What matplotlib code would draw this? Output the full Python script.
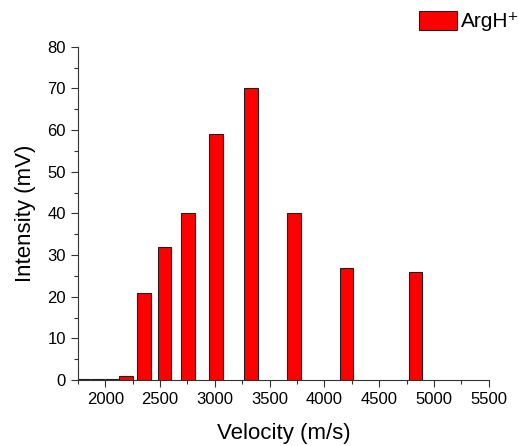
import matplotlib.pyplot as plt
from matplotlib.ticker import MultipleLocator

plt.rcParams['font.family'] = ['Liberation Sans', 'DejaVu Sans']

# velocity bins (m/s) and measured intensity (mV)
velocity = [1800, 1930, 2060, 2190, 2355, 2540, 2755, 3010, 3330, 3720, 4200, 4830]
intensity = [0.3, 0.3, 0.3, 1, 21, 32, 40, 59, 70, 40, 27, 26]

fig = plt.figure(figsize=(5.19, 4.46), dpi=100)
ax = fig.add_axes([0.150, 0.148, 0.792, 0.747])

ax.bar(velocity, intensity, width=125, color='#ff0000', edgecolor='#202020',
       linewidth=0.8, label='ArgH\u207a')

ax.set_xlim(1750, 5500)
ax.set_ylim(0, 80)
ax.xaxis.set_major_locator(MultipleLocator(500))
ax.xaxis.set_minor_locator(MultipleLocator(250))
ax.yaxis.set_major_locator(MultipleLocator(10))
ax.yaxis.set_minor_locator(MultipleLocator(5))
ax.tick_params(which='major', length=5, width=0.8, labelsize=12, color='#333333')
ax.tick_params(which='minor', length=3, width=0.8, color='#333333')
for s in ['top', 'right']:
    ax.spines[s].set_visible(False)
for s in ['left', 'bottom']:
    ax.spines[s].set_color('#333333')

ax.set_xlabel('Velocity (m/s)', fontsize=16, labelpad=12)
ax.set_ylabel('Intensity (mV)', fontsize=16, labelpad=8)

ax.legend(loc='upper right', bbox_to_anchor=(1.12, 1.165), frameon=False,
          fontsize=15, handlelength=1.8, handleheight=1.05, handletextpad=0.2)

fig.savefig('out.png')
